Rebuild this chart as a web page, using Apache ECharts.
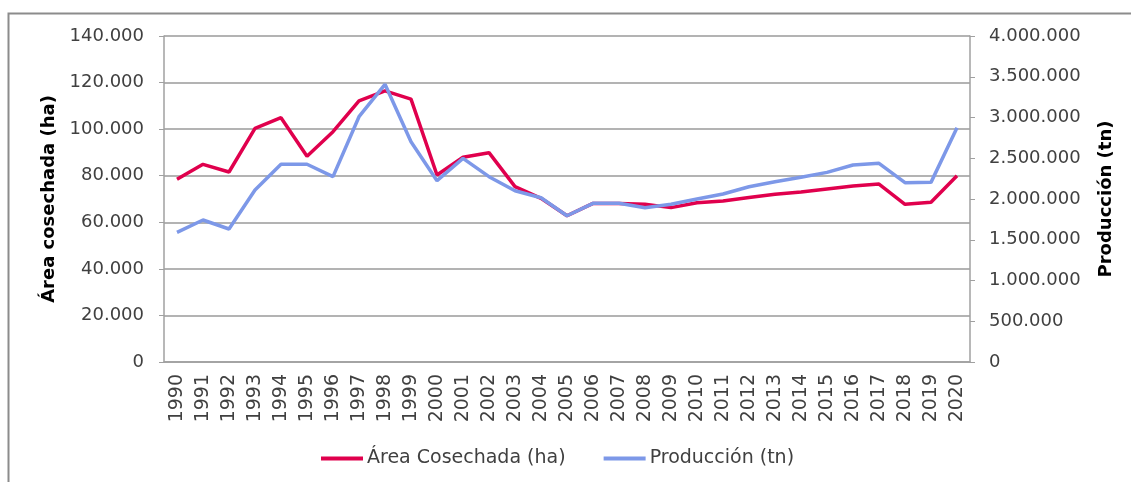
<!DOCTYPE html>
<html>
<head>
<meta charset="utf-8">
<script src="https://cdn.jsdelivr.net/npm/echarts@6/dist/echarts.min.js"></script>
<style>html,body{margin:0;padding:0;background:#fff;}#c{width:1131px;height:482px;}</style>
</head>
<body>
<div id="c"></div>
<script>
const years = ['1990','1991','1992','1993','1994','1995','1996','1997','1998','1999','2000','2001','2002','2003','2004','2005','2006','2007','2008','2009','2010','2011','2012','2013','2014','2015','2016','2017','2018','2019','2020'];
const areaCosechada = [78500,84900,81600,100300,104900,88400,98900,112100,116400,112900,80300,87900,89900,75300,70300,62800,68100,68100,67700,66300,68400,69100,70600,72000,73000,74300,75600,76400,67700,68600,80000];
const produccion = [1591000,1742000,1632000,2110000,2426000,2426000,2274000,3010000,3407000,2703000,2225000,2499000,2274000,2102000,2016000,1795000,1947000,1947000,1893000,1935000,2000000,2061000,2151000,2212000,2266000,2327000,2417000,2438000,2200000,2204000,2875000];
const leftTicks = {min:0, max:140000, interval:20000};
const rightTicks = {min:0, max:4000000, interval:500000};

const fmt = v => String(v).replace(/\B(?=(\d{3})+(?!\d))/g, '.');
const FONT = 'DejaVu Sans';
const chart = echarts.init(document.getElementById('c'), null, {renderer:'canvas'});
chart.setOption({
  animation:false,
  backgroundColor:'#fff',
  textStyle:{fontFamily:FONT},
  graphic:[{type:'rect', shape:{x:8.5, y:13.5, width:1300, height:600}, style:{fill:'none', stroke:'#8c8c8c', lineWidth:2}, silent:true, z:-1}],
  grid:{left:164, right:161, top:36, bottom:120},
  legend:{
    left:316, top:444, itemWidth:42, itemHeight:4, itemGap:38, icon:'rect',
    textStyle:{fontFamily:FONT, fontSize:19, color:'#404040', padding:[0,0,0,-1]},
    data:['Área Cosechada (ha)','Producción (tn)']
  },
  xAxis:{
    type:'category', data:years, boundaryGap:true,
    axisLine:{lineStyle:{color:'#a0a0a0', width:1.5}},
    axisTick:{show:false},
    axisLabel:{rotate:90, fontSize:19, color:'#404040', margin:12, interval:0, fontFamily:FONT}
  },
  yAxis:[
    {type:'value', min:leftTicks.min, max:leftTicks.max, interval:leftTicks.interval, position:'left',
     name:'Área cosechada (ha)', nameLocation:'middle', nameGap:106, nameRotate:90,
     nameTextStyle:{fontFamily:FONT, fontWeight:'bold', fontSize:18, color:'#000'},
     axisLine:{show:true, lineStyle:{color:'#a0a0a0', width:1.5}},
     axisTick:{show:true, length:5, lineStyle:{color:'#a0a0a0'}},
     axisLabel:{formatter:fmt, fontSize:18, color:'#404040', margin:20, fontFamily:FONT},
     splitLine:{show:true, lineStyle:{color:'#9a9a9a', width:1.5}}},
    {type:'value', min:rightTicks.min, max:rightTicks.max, interval:rightTicks.interval, position:'right',
     name:'Producción (tn)', nameLocation:'middle', nameGap:127, nameRotate:90,
     nameTextStyle:{fontFamily:FONT, fontWeight:'bold', fontSize:18, color:'#000'},
     axisLine:{show:true, lineStyle:{color:'#a0a0a0', width:1.5}},
     axisTick:{show:true, length:5, lineStyle:{color:'#a0a0a0'}},
     axisLabel:{formatter:fmt, fontSize:18, color:'#404040', margin:19, fontFamily:FONT},
     splitLine:{show:false}}
  ],
  series:[
    {name:'Área Cosechada (ha)', type:'line', yAxisIndex:0, data:areaCosechada, symbol:'none',
     lineStyle:{color:'#E0004D', width:3.5}, itemStyle:{color:'#E0004D'}},
    {name:'Producción (tn)', type:'line', yAxisIndex:1, data:produccion, symbol:'none',
     lineStyle:{color:'#7D98E8', width:3.5}, itemStyle:{color:'#7D98E8'}}
  ]
});
</script>
</body>
</html>
